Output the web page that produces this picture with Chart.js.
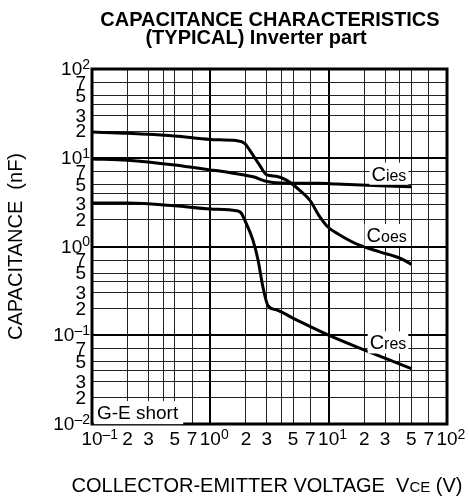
<!DOCTYPE html>
<html><head><meta charset="utf-8">
<script src="https://cdn.jsdelivr.net/npm/chart.js@4.4.0/dist/chart.umd.min.js"></script>
<style>html,body{margin:0;padding:0;background:#fff;}#wrap{width:469px;height:497px;}</style>
</head><body><div id="wrap"><canvas id="c" width="469" height="497"></canvas></div>
<script>
// ---- data ----
const titleLines = ['CAPACITANCE CHARACTERISTICS', '(TYPICAL) Inverter part'];
const yTitle = 'CAPACITANCE  (nF)';
const xTitleMain = 'COLLECTOR-EMITTER VOLTAGE  V';
const xTitleSub = 'CE';
const xTitleEnd = ' (V)';
const noteText = 'G-E short';

const xTickValues = [0.1,0.2,0.3,0.4,0.5,0.7,1,2,3,4,5,7,10,20,30,40,50,70,100];
const xTickLabels = ['10^–1','2','3','','5','7','10^0','2','3','','5','7','10^1','2','3','','5','7','10^2'];
const yTickValues = [0.01,0.02,0.03,0.04,0.05,0.07,0.1,0.2,0.3,0.4,0.5,0.7,1,2,3,4,5,7,10,20,30,40,50,70,100];
const yTickLabels = ['10^–2','2','3','','5','7','10^–1','2','3','','5','7','10^0','2','3','','5','7','10^1','2','3','','5','7','10^2'];

const ciesV = [0.1, 0.2, 0.5, 0.8, 1.0, 1.55, 2.3, 3.0, 3.9, 8.4, 11.6, 50];
const ciesC = [9.7, 9.4, 8.3, 7.6, 7.3, 6.7, 6.1, 5.4, 5.2, 5.15, 5.06, 4.7];
const coesV = [0.1, 0.2, 0.5, 1.0, 1.65, 1.95, 2.15, 2.6, 3.0, 3.6, 4.4, 5.7, 6.9, 8.4, 9.8, 12.4, 18, 27, 40, 50];
const coesC = [19.5, 18.9, 17.6, 16.1, 15.6, 14.5, 12.2, 8.3, 6.4, 6.2, 5.6, 4.3, 3.35, 2.17, 1.67, 1.35, 1.04, 0.87, 0.74, 0.63];
const cresV = [0.1, 0.2, 0.5, 1.0, 1.66, 1.83, 1.95, 2.29, 2.53, 2.78, 3.07, 3.62, 5.34, 10.2, 50];
const cresC = [3.1, 3.09, 2.88, 2.65, 2.53, 2.37, 1.99, 1.18, 0.705, 0.352, 0.216, 0.193, 0.149, 0.099, 0.042];

const seriesNames = ['Cies', 'Coes', 'Cres'];
// label anchors in data units: [x at left of text, y at text centre]
const seriesLabelX = [23, 20.9, 22.2];
const seriesLabelY = [6.6, 1.35, 0.083];
const noteX = 0.11, noteY = 0.0136;

const FONT = '"Liberation Sans", Arial, Helvetica, sans-serif';

function pts(xs, ys){ return xs.map((x,i)=>({x:x, y:ys[i]})); }
function isMajor(v){ const l = Math.log10(v); return Math.abs(l - Math.round(l)) < 1e-6; }

const drawPlugin = {
  id: 'drawExtras',
  afterDatasetsDraw(chart){
    const ctx = chart.ctx, xs = chart.scales.x, ys = chart.scales.y, a = chart.chartArea;
    ctx.save();
    // frame
    ctx.strokeStyle = '#000'; ctx.lineWidth = 3;
    ctx.strokeRect(a.left, a.top, a.right - a.left, a.bottom - a.top);

    // series labels
    seriesNames.forEach((n, i) => {
      const px = xs.getPixelForValue(seriesLabelX[i]);
      const py = ys.getPixelForValue(seriesLabelY[i]);
      ctx.font = '20px ' + FONT; const w1 = ctx.measureText(n[0]).width;
      ctx.font = '16px ' + FONT; const w2 = ctx.measureText(n.slice(1)).width;
      ctx.fillStyle = '#fff';
      ctx.fillRect(px - 2, py - 11, w1 + w2 + 4, 22);
      ctx.fillStyle = '#000'; ctx.textBaseline = 'alphabetic'; ctx.textAlign = 'left';
      ctx.font = '20px ' + FONT; ctx.fillText(n[0], px, py + 7);
      ctx.font = '16px ' + FONT; ctx.fillText(n.slice(1), px + w1, py + 7);
    });
    // note
    {
      const px = xs.getPixelForValue(noteX), py = ys.getPixelForValue(noteY);
      ctx.font = '19px ' + FONT; const w = ctx.measureText(noteText).width;
      ctx.fillStyle = '#fff'; ctx.fillRect(px - 3, py - 11, w + 8, 23);
      ctx.fillStyle = '#000'; ctx.textAlign = 'left'; ctx.textBaseline = 'alphabetic';
      ctx.fillText(noteText, px, py + 7);
    }

    // y tick labels
    yTickValues.forEach((v, i) => {
      const lab = yTickLabels[i]; if (!lab) return;
      const py = ys.getPixelForValue(v);
      ctx.fillStyle = '#000'; ctx.textBaseline = 'middle';
      if (lab.includes('^')) {
        const [b, e] = lab.split('^');
        ctx.font = '14px ' + FONT; const we = ctx.measureText(e).width;
        ctx.textAlign = 'right';
        ctx.fillText(e, 90, py - 4);
        ctx.font = '19px ' + FONT;
        ctx.fillText(b, 90 - we, py + 1);
      } else {
        ctx.font = '19px ' + FONT; ctx.textAlign = 'right';
        ctx.fillText(lab, 86, py + 1);
      }
    });
    // x tick labels
    xTickValues.forEach((v, i) => {
      const lab = xTickLabels[i]; if (!lab) return;
      const px = xs.getPixelForValue(v);
      ctx.fillStyle = '#000'; ctx.textBaseline = 'middle';
      if (lab.includes('^')) {
        const [b, e] = lab.split('^');
        ctx.font = '19px ' + FONT; const wb = ctx.measureText(b).width;
        ctx.textAlign = 'left';
        ctx.fillText(b, px - wb / 2, a.bottom + 16);
        ctx.font = '14px ' + FONT;
        ctx.fillText(e, px + wb / 2, a.bottom + 11);
      } else {
        ctx.font = '19px ' + FONT; ctx.textAlign = 'center';
        ctx.fillText(lab, px, a.bottom + 16);
      }
    });

    // titles
    ctx.fillStyle = '#000'; ctx.textAlign = 'center'; ctx.textBaseline = 'middle';
    ctx.font = 'bold 20px ' + FONT;
    ctx.fillText(titleLines[0], 270, 20);
    ctx.fillText(titleLines[1], 256, 38);

    // y axis title
    ctx.save();
    ctx.translate(16, (a.top + a.bottom) / 2);
    ctx.rotate(-Math.PI / 2);
    ctx.font = '20px ' + FONT; ctx.textAlign = 'center'; ctx.textBaseline = 'middle';
    ctx.fillText(yTitle, 0, 0);
    ctx.restore();

    // x axis title
    ctx.font = '20px ' + FONT; const w1 = ctx.measureText(xTitleMain).width;
    const w3 = ctx.measureText(xTitleEnd).width;
    ctx.font = '15px ' + FONT; const w2 = ctx.measureText(xTitleSub).width;
    let x0 = 267 - (w1 + w2 + w3) / 2;
    const by = 492;
    ctx.textAlign = 'left'; ctx.textBaseline = 'alphabetic';
    ctx.font = '20px ' + FONT; ctx.fillText(xTitleMain, x0, by);
    ctx.font = '15px ' + FONT; ctx.fillText(xTitleSub, x0 + w1, by);
    ctx.font = '20px ' + FONT; ctx.fillText(xTitleEnd, x0 + w1 + w2, by);
    ctx.restore();
  }
};

const gridOpts = {
  drawTicks: false,
  color: c => isMajor(c.tick.value) ? '#000' : '#222',
  lineWidth: c => isMajor(c.tick.value) ? 2 : 1
};

new Chart(document.getElementById('c'), {
  type: 'line',
  data: {
    datasets: [
      { label: seriesNames[0], data: pts(ciesV, ciesC) },
      { label: seriesNames[1], data: pts(coesV, coesC) },
      { label: seriesNames[2], data: pts(cresV, cresC) }
    ].map(d => Object.assign(d, { borderColor: '#000', borderWidth: 3, pointRadius: 0, fill: false, cubicInterpolationMode: 'monotone' }))
  },
  options: {
    responsive: false, animation: false, devicePixelRatio: 1,
    layout: { padding: { left: 92, top: 69, right: 22, bottom: 73 } },
    plugins: { legend: { display: false }, title: { display: false }, tooltip: { enabled: false } },
    scales: {
      x: { type: 'logarithmic', min: 0.1, max: 100, ticks: { display: false }, border: { display: false }, grid: gridOpts,
           afterBuildTicks: s => { s.ticks = xTickValues.map(v => ({ value: v })); } },
      y: { type: 'logarithmic', min: 0.01, max: 100, ticks: { display: false }, border: { display: false }, grid: gridOpts,
           afterBuildTicks: s => { s.ticks = yTickValues.map(v => ({ value: v })); } }
    }
  },
  plugins: [drawPlugin]
});
</script></body></html>
